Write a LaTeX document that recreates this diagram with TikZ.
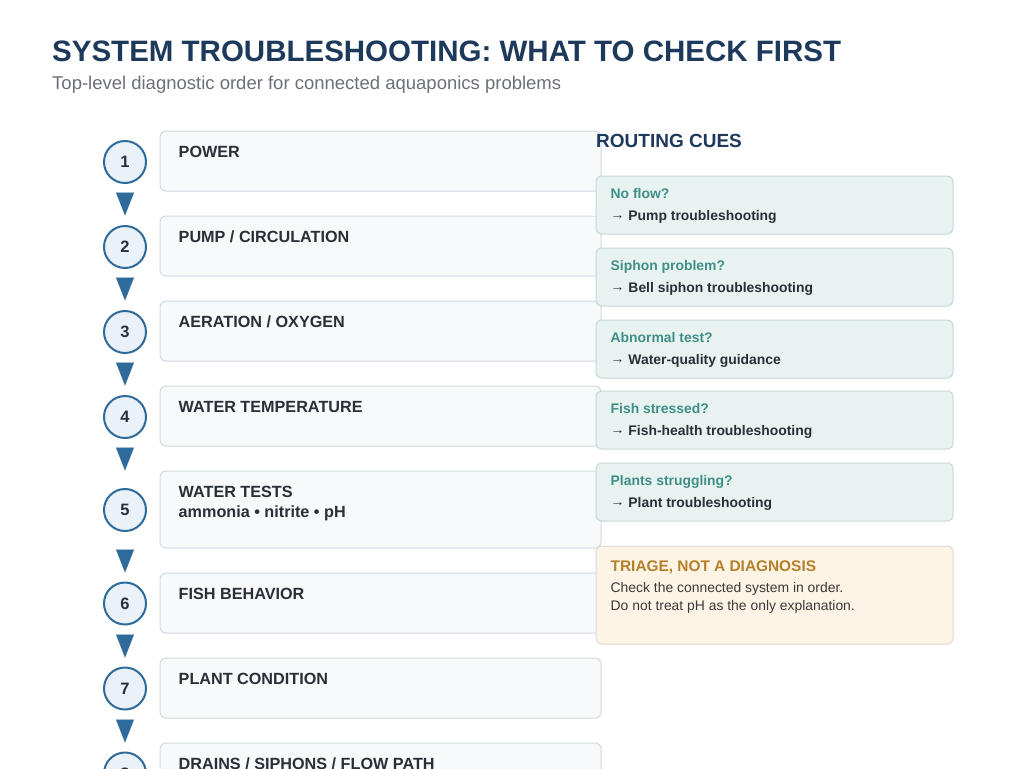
\documentclass[tikz,border=0pt]{standalone}
\usepackage{fontspec}
\setmainfont{Liberation Sans}
\usepackage{xcolor}
\usetikzlibrary{arrows.meta,calc,positioning}

\definecolor{titleblue}{HTML}{1D3A5C}
\definecolor{subgray}{HTML}{6B7078}
\definecolor{darktext}{HTML}{2A2F37}
\definecolor{flowblue}{HTML}{2E6B9B}
\definecolor{circfill}{HTML}{EAF1F8}
\definecolor{stepfill}{HTML}{F7F9FB}
\definecolor{stepline}{HTML}{D2D9DF}
\definecolor{cuefill}{HTML}{E8F3F1}
\definecolor{cueline}{HTML}{C6D6D9}
\definecolor{cueteal}{HTML}{3F8F86}
\definecolor{notefill}{HTML}{FDF4E5}
\definecolor{noteline}{HTML}{DADADA}
\definecolor{noteorange}{HTML}{B5802A}
\definecolor{notetext}{HTML}{3A3A3A}

\newcommand{\cuearrow}{\raisebox{1.5pt}{→}}

\tikzset{
  stepbox/.style={draw=stepline, fill=stepfill, rounded corners=6pt, line width=1pt,
    minimum width=441pt, minimum height=60pt, inner sep=0pt},
  stepnum/.style={circle, draw=flowblue, fill=circfill, line width=2pt, minimum size=42pt,
    inner sep=0pt, text=darktext, font=\bfseries\fontsize{16.5}{18}\selectfont},
  steptext/.style={anchor=base west, inner sep=0pt, text=darktext,
    font=\bfseries\fontsize{16.2}{20}\selectfont},
  flowtip/.style={-{Triangle[length=23pt,width=18pt]}, draw=flowblue, fill=flowblue,
    line width=0.1pt, shorten <=2pt},
  cuebox/.style={draw=cueline, fill=cuefill, rounded corners=6pt, line width=1pt,
    minimum width=357pt, minimum height=58pt, inner sep=0pt},
  cuehead/.style={anchor=base west, inner sep=0pt, text=cueteal,
    font=\bfseries\fontsize{13.9}{16}\selectfont},
  cuebody/.style={anchor=base west, inner sep=0pt, text=darktext,
    font=\bfseries\fontsize{13.9}{16}\selectfont},
}

\begin{document}
\begin{tikzpicture}[x=1pt,y=-1pt]
\useasboundingbox (0,0) rectangle (1024,768);
\clip (0,0) rectangle (1024,768);

% heading
\node (title) at (52,62) [anchor=base west, inner sep=0pt, text=titleblue,
  font=\bfseries\fontsize{29.5}{34}\selectfont] {SYSTEM TROUBLESHOOTING: WHAT TO CHECK FIRST};
\node (subtitle) at (52,89) [anchor=base west, inner sep=0pt, text=subgray,
  font=\fontsize{18.5}{22}\selectfont] {Top-level diagnostic order for connected aquaponics problems};

% check order
\node (s1) at (380.5,161) [stepbox]{};
\node (s2) at (380.5,246) [stepbox]{};
\node (s3) at (380.5,331) [stepbox]{};
\node (s4) at (380.5,416) [stepbox]{};
\node (s5) at (380.5,509.5) [stepbox, minimum height=77pt]{};
\node (s6) at (380.5,603) [stepbox]{};
\node (s7) at (380.5,688) [stepbox]{};
\node (s8) at (380.5,773) [stepbox]{};

\node (c1) at (125,162) [stepnum]{1};
\node (c2) at (125,247) [stepnum]{2};
\node (c3) at (125,332) [stepnum]{3};
\node (c4) at (125,417) [stepnum]{4};
\node (c5) at (125,510) [stepnum]{5};
\node (c6) at (125,603.5) [stepnum]{6};
\node (c7) at (125,688.5) [stepnum]{7};
\node (c8) at (125,773.5) [stepnum]{8};

\node (t1) at ($(s1.north west)+(19,27)$) [steptext]{POWER};
\node (t2) at ($(s2.north west)+(19,27)$) [steptext]{PUMP / CIRCULATION};
\node (t3) at ($(s3.north west)+(19,27)$) [steptext]{AERATION / OXYGEN};
\node (t4) at ($(s4.north west)+(19,27)$) [steptext]{WATER TEMPERATURE};
\node (t5) at ($(s5.north west)+(19,27)$) [steptext]{WATER TESTS};
\node (t5b) at ($(s5.north west)+(19,47)$) [steptext]{ammonia • nitrite • pH};
\node (t6) at ($(s6.north west)+(19,27)$) [steptext]{FISH BEHAVIOR};
\node (t7) at ($(s7.north west)+(19,27)$) [steptext]{PLANT CONDITION};
\node (t8) at ($(s8.north west)+(19,27)$) [steptext]{DRAINS / SIPHONS / FLOW PATH};

\draw[flowtip] (c1 |- s1.south) -- (c2 |- s2.north);
\draw[flowtip] (c2 |- s2.south) -- (c3 |- s3.north);
\draw[flowtip] (c3 |- s3.south) -- (c4 |- s4.north);
\draw[flowtip] (c4 |- s4.south) -- (c5 |- s5.north);
\draw[flowtip] (c5 |- s5.south) -- (c6 |- s6.north);
\draw[flowtip] (c6 |- s6.south) -- (c7 |- s7.north);
\draw[flowtip] (c7 |- s7.south) -- (c8 |- s8.north);

% routing cues
\node (cues) at (596,147) [anchor=base west, inner sep=0pt, text=titleblue,
  font=\bfseries\fontsize{19}{22}\selectfont] {ROUTING CUES};

\node (r1) at (774.5,205) [cuebox]{};
\node (r2) at (774.5,277) [cuebox]{};
\node (r3) at (774.5,349) [cuebox]{};
\node (r4) at (774.5,420) [cuebox]{};
\node (r5) at (774.5,492) [cuebox]{};

\node (h1) at ($(r1.north west)+(15,23)$) [cuehead]{No flow?};
\node (b1) at ($(r1.north west)+(15,45)$) [cuebody]{\cuearrow{} Pump troubleshooting};
\node (h2) at ($(r2.north west)+(15,23)$) [cuehead]{Siphon problem?};
\node (b2) at ($(r2.north west)+(15,45)$) [cuebody]{\cuearrow{} Bell siphon troubleshooting};
\node (h3) at ($(r3.north west)+(15,23)$) [cuehead]{Abnormal test?};
\node (b3) at ($(r3.north west)+(15,45)$) [cuebody]{\cuearrow{} Water-quality guidance};
\node (h4) at ($(r4.north west)+(15,23)$) [cuehead]{Fish stressed?};
\node (b4) at ($(r4.north west)+(15,45)$) [cuebody]{\cuearrow{} Fish-health troubleshooting};
\node (h5) at ($(r5.north west)+(15,23)$) [cuehead]{Plants struggling?};
\node (b5) at ($(r5.north west)+(15,45)$) [cuebody]{\cuearrow{} Plant troubleshooting};

% triage note
\node (note) at (774.5,595) [draw=noteline, fill=notefill, rounded corners=6pt, line width=1pt,
  minimum width=357pt, minimum height=98pt, inner sep=0pt]{};
\node (nh) at ($(note.north west)+(15,26)$) [anchor=base west, inner sep=0pt, text=noteorange,
  font=\bfseries\fontsize{15.4}{18}\selectfont] {TRIAGE, NOT A DIAGNOSIS};
\node (n1) at ($(note.north west)+(15,47)$) [anchor=base west, inner sep=0pt, text=notetext,
  font=\fontsize{13.9}{16}\selectfont] {Check the connected system in order.};
\node (n2) at ($(note.north west)+(15,65)$) [anchor=base west, inner sep=0pt, text=notetext,
  font=\fontsize{13.9}{16}\selectfont] {Do not treat pH as the only explanation.};
\end{tikzpicture}
\end{document}
